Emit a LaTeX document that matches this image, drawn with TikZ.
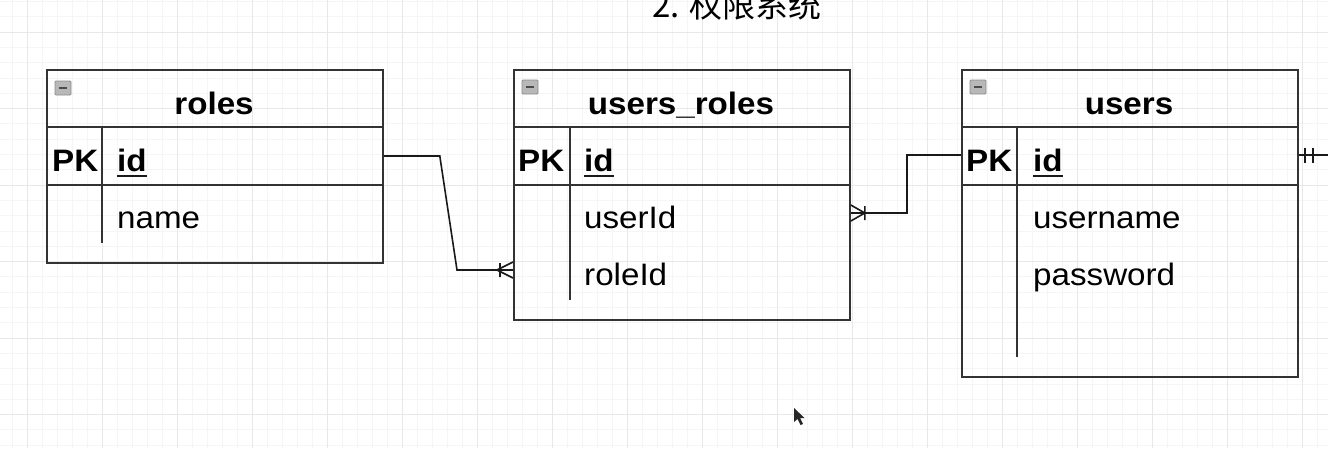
\documentclass[tikz,border=0pt]{standalone}
\usepackage{fontspec}
\setmainfont{Liberation Sans}[FakeStretch=1.07]
\newfontfamily\cjkfont{Noto Sans CJK SC}
\tikzset{
  minorgrid/.style={draw=black!4, line width=0.8pt},
  majorgrid/.style={draw=black!9, line width=0.9pt},
  tbl/.style={draw=black!80, line width=1.8pt, inner sep=0pt, anchor=north west, minimum width=336pt},
  sepline/.style={draw=black!80, line width=1.8pt},
  hdr/.style={font=\fontsize{31}{36}\selectfont\bfseries, inner sep=0pt, anchor=base},
  fld/.style={font=\fontsize{31}{36}\selectfont, inner sep=0pt, anchor=base west},
  pkey/.style={font=\fontsize{31}{36}\selectfont\bfseries, inner sep=0pt, anchor=base west},
  icon/.style={draw=black!45, fill=black!28, line width=0.8pt, rounded corners=1pt},
  conn/.style={draw=black!90, line width=1.6pt},
  ulinestyle/.style={draw=black!90, line width=2.4pt}
}
\begin{document}
\begin{tikzpicture}[x=1pt,y=-1pt]
\useasboundingbox (0,0) rectangle (1328,448);
\fill[white] (0,0) rectangle (1328,448);
% grid
\foreach \i in {-1,...,88} \draw[minorgrid] ({27+15*\i},0) -- ({27+15*\i},448);
\foreach \i in {-2,...,28} \draw[minorgrid] (0,{32+15.3*\i}) -- (1328,{32+15.3*\i});
\foreach \i in {-1,...,17} \draw[majorgrid] ({27+75*\i},0) -- ({27+75*\i},448);
\foreach \i in {-1,...,5} \draw[majorgrid] (0,{32+76.5*\i}) -- (1328,{32+76.5*\i});

% title
\node[font=\cjkfont\fontsize{33}{38}\selectfont, anchor=base, inner sep=0pt] (title) at (737,17) {2. 权限系统};

% ---------- roles ----------
\node[tbl, minimum height=193pt] (roles) at (46,69) {};
\draw[sepline] ([yshift=-58pt]roles.north west) -- ([yshift=-58pt]roles.north east);
\draw[sepline] ([yshift=-116pt]roles.north west) -- ([yshift=-116pt]roles.north east);
\draw[sepline] ([xshift=56pt,yshift=-58pt]roles.north west) -- ([xshift=56pt,yshift=21pt]roles.south west);
\draw[icon] (55,81) rectangle (71,95);
\draw[draw=black!70, line width=1.4pt] (59,88) -- (67,88);
\node[hdr] (rolesT) at (214,114) {roles};
\node[pkey] (rolesPK) at (52,171) {PK};
\node[pkey] (rolesId) at (117,171) {id};
\draw[ulinestyle] ([yshift=-5pt]rolesId.base west) -- ([yshift=-5pt]rolesId.base east);
\node[fld] (rolesName) at (117,228) {name};

% ---------- users_roles ----------
\node[tbl, minimum height=250pt] (ur) at (513,69) {};
\draw[sepline] ([yshift=-58pt]ur.north west) -- ([yshift=-58pt]ur.north east);
\draw[sepline] ([yshift=-116pt]ur.north west) -- ([yshift=-116pt]ur.north east);
\draw[sepline] ([xshift=57pt,yshift=-58pt]ur.north west) -- ([xshift=57pt,yshift=21pt]ur.south west);
\draw[icon] (522,80) rectangle (538,94);
\draw[draw=black!70, line width=1.4pt] (526,87) -- (534,87);
\node[hdr] (urT) at (681,114) {users\_roles};
\node[pkey] (urPK) at (518,171) {PK};
\node[pkey] (urId) at (584,171) {id};
\draw[ulinestyle] ([yshift=-5pt]urId.base west) -- ([yshift=-5pt]urId.base east);
\node[fld] (urUser) at (584,228) {userId};
\node[fld] (urRole) at (584,285) {roleId};

% ---------- users ----------
\node[tbl, minimum height=307pt] (users) at (961,69) {};
\draw[sepline] ([yshift=-58pt]users.north west) -- ([yshift=-58pt]users.north east);
\draw[sepline] ([yshift=-116pt]users.north west) -- ([yshift=-116pt]users.north east);
\draw[sepline] ([xshift=56pt,yshift=-58pt]users.north west) -- ([xshift=56pt,yshift=21pt]users.south west);
\draw[icon] (970,80) rectangle (986,94);
\draw[draw=black!70, line width=1.4pt] (974,87) -- (982,87);
\node[hdr] (usersT) at (1129,114) {users};
\node[pkey] (usersPK) at (966,171) {PK};
\node[pkey] (usersId) at (1033,171) {id};
\draw[ulinestyle] ([yshift=-5pt]usersId.base west) -- ([yshift=-5pt]usersId.base east);
\node[fld] (usersName) at (1033,228) {username};
\node[fld] (usersPw) at (1033,285) {password};

% ---------- connectors ----------
% roles.id -> users_roles.roleId (one-or-many at users_roles)
\coordinate (c1s) at ([yshift=-87pt]roles.north east);
\coordinate (c1e) at ([yshift=-201pt]ur.north west);
\draw[conn] (c1s) -- ++(56,0) -- (457,270) -- (c1e);
\draw[conn] ([xshift=-16pt]c1e) -- ([yshift=8pt]c1e)
            ([xshift=-16pt]c1e) -- ([yshift=-8pt]c1e)
            ([xshift=-13pt,yshift=7pt]c1e) -- ([xshift=-13pt,yshift=-7pt]c1e);

% users_roles.userId -> users.id (one-or-many at users_roles)
\coordinate (c2s) at ([yshift=-144pt]ur.north east);
\coordinate (c2e) at ([yshift=-86pt]users.north west);
\draw[conn] (c2s) -- ++(56,0) |- (c2e);
\draw[conn] ([yshift=8pt]c2s) -- ([xshift=14pt]c2s) -- ([yshift=-8pt]c2s)
            ([xshift=14pt,yshift=7pt]c2s) -- ([xshift=14pt,yshift=-7pt]c2s);

% users.id -> off-screen (mandatory one)
\coordinate (c3s) at ([yshift=-86pt]users.north east);
\coordinate (c3e) at (1328,155);
\draw[conn] (c3s) -- (c3e);
\draw[conn] ([xshift=6pt,yshift=7pt]c3s) -- ([xshift=6pt,yshift=-8pt]c3s)
            ([xshift=14pt,yshift=7pt]c3s) -- ([xshift=14pt,yshift=-8pt]c3s);

% mouse cursor
\fill[black!85] (794,408) -- (794,422) -- (797.5,419) -- (800.5,425) -- (803,424) -- (800,418) -- (804.5,418) -- cycle;
\end{tikzpicture}
\end{document}
